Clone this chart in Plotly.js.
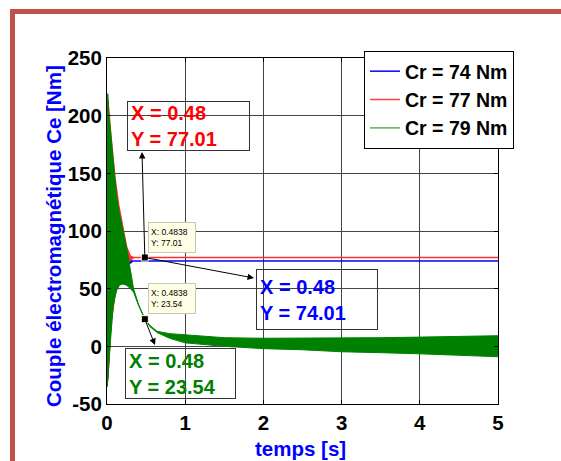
<!DOCTYPE html>
<html>
<head>
<meta charset="utf-8">
<script src="https://cdn.plot.ly/plotly-3.0.1.min.js"></script>
<style>
  html, body { margin:0; padding:0; background:#ffffff; width:561px; height:461px; overflow:hidden; }
  #frame { position:absolute; left:10px; top:9px; width:700px; height:600px;
           border-left:5px solid #c0504d; border-top:5px solid #c0504d; box-sizing:border-box; }
  #chart { position:absolute; left:0; top:0; width:561px; height:461px; }
</style>
</head>
<body>
<div id="frame"></div>
<div id="chart"></div>
<script>
// ---- data ----
const seriesNames = ["Cr = 74 Nm", "Cr = 77 Nm", "Cr = 79 Nm"];
const seriesColors = ["#0000ff", "#ff3030", "#008000"];
const legendColors = ["#0000ff", "#ff4040", "#60b060"];

// time (s) and envelope of the electromagnetic torque (Nm)
const t_blue   = [0, 0.004, 0.01, 0.05, 0.1, 0.15, 0.2, 0.25, 0.3, 0.34, 5];
const blue_up  = [0, 95, 210, 175, 140, 115, 96, 82, 74.5, 74.01, 74.01];
const blue_low = [0, -30, -28, 20, 45, 55, 62, 68, 72, 74.01, 74.01];

const t_red    = [0, 0.004, 0.01, 0.05, 0.1, 0.15, 0.2, 0.25, 0.3, 0.34, 5];
const red_up   = [0, 98, 214, 182, 147, 122, 103, 86, 78, 77.01, 77.01];
const red_low  = [0, -30, -28, 20, 45, 55, 63, 70, 75, 77.01, 77.01];

const t_green   = [0, 0.004, 0.01, 0.02, 0.05, 0.08, 0.12, 0.16, 0.2, 0.25, 0.3, 0.34, 0.4, 0.4838, 0.55, 0.64, 0.8, 1, 1.5, 2, 2.5, 3, 3.5, 4, 4.5, 5];
const green_up  = [0, 100, 219, 205, 184, 158, 132, 115, 102, 86, 66, 50, 37, 23.54, 18, 13, 11, 10, 7.5, 7, 7, 7, 7.5, 8, 8.5, 9.2];
const green_low = [0, -35, -33, -25, 10, 35, 48, 53, 54, 53, 50, 47, 36, 23.54, 17, 12, 7, 3, 0, -2, -3, -4.7, -5.5, -6.5, -7.5, -9];

// data tips
const tipX = [0.4838, 0.4838];
const tipY = [77.01, 23.54];
const tipLabels = ["X: 0.4838<br>Y: 77.01", "X: 0.4838<br>Y: 23.54"];
const boxLabels = ["X = 0.48<br>Y = 77.01", "X = 0.48<br>Y = 74.01", "X = 0.48<br>Y = 23.54"];

const xTicks = [0, 1, 2, 3, 4, 5];
const yTicks = [-50, 0, 50, 100, 150, 200, 250];
const xTitle = "temps [s]";
const yTitle = "Couple électromagnétique Ce [Nm]";

// ---- build traces ----
function band(t, up, low, color, w) {
  return {
    x: t.concat(t.slice().reverse()),
    y: up.concat(low.slice().reverse()),
    type: "scatter", mode: "lines", fill: "toself",
    fillcolor: color, line: {color: color, width: w},
    showlegend: false, hoverinfo: "skip"
  };
}
const traces = [
  band(t_blue, blue_up, blue_low, seriesColors[0], 1),
  band(t_red, red_up, red_low, seriesColors[1], 1.6),
  band(t_green, green_up, green_low, seriesColors[2], 1)
];
seriesNames.forEach((n, i) => {
  traces.push({x: [null], y: [null], type: "scatter", mode: "lines", name: n,
               line: {color: legendColors[i], width: 1.5}});
});
traces.push({x: tipX, y: tipY, type: "scatter", mode: "markers", showlegend: false,
             marker: {symbol: "square", size: 7, color: "#000000", line: {color: "#ffffcc", width: 1}}});

// ---- layout helpers (pixel -> paper) ----
const L = 107, T = 58, W = 391, H = 346;
const px = v => (v - L) / W;
const py = v => (T + H - v) / H;
const FAM = "Liberation Sans, Arial, sans-serif";

function bigBox(text, color, left, top, w, h) {
  return {xref: "paper", yref: "paper", x: px(left), y: py(top), xanchor: "left", yanchor: "top",
          text: text, showarrow: false, align: "left", valign: "middle",
          width: w - 8, height: h - 8, borderpad: 3, borderwidth: 1, bordercolor: "#333333",
          bgcolor: "rgba(255,255,255,0)",
          font: {family: FAM, size: 20, color: color, weight: "bold"}};
}
function tipBox(text, left, top) {
  return {xref: "paper", yref: "paper", x: px(left), y: py(top), xanchor: "left", yanchor: "top",
          text: text, showarrow: false, align: "left", valign: "middle",
          width: 42, height: 25, borderpad: 2, borderwidth: 1, bordercolor: "#c8c8b8",
          bgcolor: "#ffffe6",
          font: {family: FAM, size: 8.5, color: "#000000"}};
}
function arrow(headX, headY, tailX, tailY) {
  return {xref: "x", yref: "y", axref: "x", ayref: "y", x: headX, y: headY, ax: tailX, ay: tailY,
          text: "", showarrow: true, arrowhead: 2, arrowsize: 1.3, arrowwidth: 1, arrowcolor: "#000000"};
}
const titleFont = {family: FAM, size: 20.5, color: "#0000ff", weight: "bold"};

const annotations = [
  tipBox(tipLabels[0], 148, 222),
  tipBox(tipLabels[1], 148, 283),
  bigBox(boxLabels[0], "#ff0000", 127, 101, 123, 50),
  bigBox(boxLabels[1], "#0000ff", 256, 269, 122, 61),
  bigBox(boxLabels[2], "#008000", 125, 348, 111, 51),
  arrow(0.448, 168.5, tipX[0], tipY[0]),
  arrow(1.88, 59.2, tipX[0], tipY[0]),
  arrow(0.614, 1.1, tipX[1], tipY[1]),
  {xref: "paper", yref: "paper", x: px(300), y: py(448), xanchor: "center", yanchor: "middle",
   text: xTitle, showarrow: false, font: titleFont},
  {xref: "paper", yref: "paper", x: px(53), y: py(236), xanchor: "center", yanchor: "middle",
   text: yTitle, showarrow: false, textangle: -90, font: titleFont}
];

const fontB = {family: FAM, size: 20.5, color: "#000000", weight: "bold"};
const fontLeg = {family: FAM, size: 19.5, color: "#000000", weight: "bold"};

const layout = {
  width: 561, height: 461,
  margin: {l: L, r: 561 - L - W, t: T, b: 461 - T - H, pad: 0},
  paper_bgcolor: "rgba(0,0,0,0)", plot_bgcolor: "#ffffff",
  showlegend: true,
  legend: {x: px(364), y: py(51), xanchor: "left", yanchor: "top",
           bgcolor: "#ffffff", bordercolor: "#000000", borderwidth: 1,
           font: fontLeg, itemwidth: 30, tracegroupgap: 0},
  xaxis: {range: [0, 5], tickvals: xTicks, ticktext: xTicks.map(String),
          showgrid: true, gridcolor: "#444444", gridwidth: 1, zeroline: false,
          showline: true, linecolor: "#000000", linewidth: 1, mirror: "ticks",
          ticks: "inside", ticklen: 4, tickcolor: "#000000", tickfont: fontB,
          automargin: false},
  yaxis: {range: [-50, 250], tickvals: yTicks, ticktext: yTicks.map(String),
          showgrid: true, gridcolor: "#444444", gridwidth: 1, zeroline: false,
          showline: true, linecolor: "#000000", linewidth: 1, mirror: "ticks",
          ticks: "inside", ticklen: 4, tickcolor: "#000000", tickfont: fontB,
          automargin: false},
  annotations: annotations
};

Plotly.newPlot("chart", traces, layout, {displayModeBar: false, staticPlot: true});
</script>
</body>
</html>
